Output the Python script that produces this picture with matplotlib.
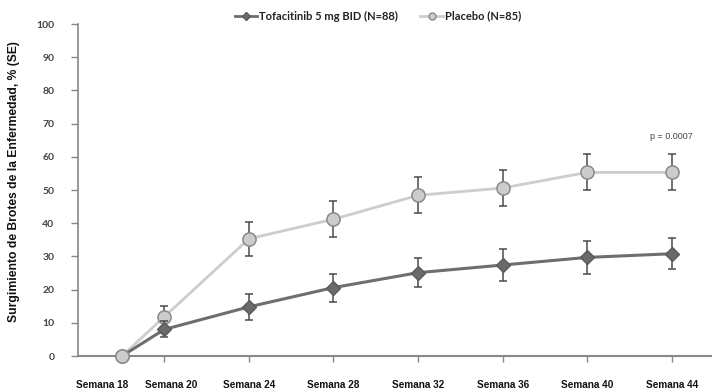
import matplotlib
matplotlib.use("Agg")
import matplotlib.pyplot as plt

# Data
weeks = [18, 20, 24, 28, 32, 36, 40, 44]
week_labels = ["Semana 18", "Semana 20", "Semana 24", "Semana 28",
               "Semana 32", "Semana 36", "Semana 40", "Semana 44"]
tofa_vals = [0, 8.0, 14.8, 20.6, 25.1, 27.4, 29.7, 30.8]
tofa_err = [0, 2.4, 3.9, 4.2, 4.4, 4.8, 4.9, 4.7]
placebo_vals = [0, 11.8, 35.3, 41.2, 48.4, 50.6, 55.3, 55.3]
placebo_err = [0, 3.4, 5.2, 5.5, 5.4, 5.4, 5.4, 5.4]
tofa_label = "Tofacitinib 5 mg BID (N=88)"
placebo_label = "Placebo (N=85)"
p_text = "p = 0.0007"

fig = plt.figure(figsize=(7.12, 3.91), dpi=100)
ax = fig.add_axes([78 / 712, 35 / 391, 634 / 712, 332 / 391])

dark = "#6e6e6e"
light = "#cdcdcd"

# placebo
ax.errorbar(weeks[1:], placebo_vals[1:], yerr=placebo_err[1:], fmt="none",
            ecolor="#4a4a4a", elinewidth=1.1, capsize=3, capthick=1.1, zorder=2)
ax.plot(weeks, placebo_vals, color=light, lw=2, zorder=2)
ax.plot(weeks, placebo_vals, ls="none", marker="o", ms=9.5, mfc="#cccccc",
        mec="#8a8a8a", mew=1.1, zorder=3)

# tofacitinib
ax.errorbar(weeks[1:], tofa_vals[1:], yerr=tofa_err[1:], fmt="none",
            ecolor="#4a4a4a", elinewidth=1.1, capsize=3, capthick=1.1, zorder=4)
ax.plot(weeks, tofa_vals, color=dark, lw=2.2, zorder=4)
ax.plot(weeks[1:], tofa_vals[1:], ls="none", marker="D", ms=7, mfc="#6a6a6a",
        mec="#5a5a5a", mew=1, zorder=5)

# first placebo marker sits on top of the tofacitinib start
ax.plot(weeks[:1], placebo_vals[:1], ls="none", marker="o", ms=9.5, mfc="#cccccc",
        mec="#8a8a8a", mew=1.1, zorder=6)

ax.text(weeks[-1], 66, p_text, ha="center", va="center", fontsize=6.5,
        color="#444444", family="Liberation Sans")

ax.set_xlim(15.92, 45.9)
ax.set_ylim(0, 100)
ax.set_yticks(range(0, 101, 10))
ax.set_xticks(weeks)
ax.set_xticklabels([])

# week labels drawn by hand so the first two can be nudged apart
shifts = [-20, 7, 0, 0, 0, 0, 0, 0]
for wk, lab, dx in zip(weeks, week_labels, shifts):
    ax.annotate(lab, xy=(wk, 0), xycoords=("data", "axes fraction"),
                xytext=(dx * 0.72, -29 * 0.72), textcoords="offset points",
                ha="center", va="center", fontsize=7.2, fontweight="bold",
                family="Liberation Sans", color="#111111", annotation_clip=False)

for lab in ax.get_yticklabels():
    lab.set_fontsize(7.5)
    lab.set_fontweight("bold")
    lab.set_family("Lato")
    lab.set_color("#444444")
ax.tick_params(axis="x", length=4, color="#888888", width=1)
ax.tick_params(axis="y", length=5, pad=12, color="#888888", width=1)

for s in ["top", "right"]:
    ax.spines[s].set_visible(False)
ax.spines["left"].set_color("#888888")
ax.spines["bottom"].set_color("#888888")
ax.spines["left"].set_linewidth(1.2)
ax.spines["bottom"].set_linewidth(1.5)
for art in ax.lines:
    art.set_clip_on(False)

fig.text(14 / 712, 1 - 182 / 391, "Surgimiento de Brotes de la Enfermedad, % (SE)",
         rotation=90, ha="center", va="center", fontsize=8.7, fontweight="bold",
         family="Liberation Sans", color="#111111")

# legend
h1, = ax.plot([], [], color=dark, lw=2, marker="D", ms=4, mfc="#6a6a6a", mec="#5a5a5a")
h2, = ax.plot([], [], color=light, lw=2, marker="o", ms=5, mfc="#cccccc", mec="#8a8a8a")
leg = fig.legend([h1, h2], [tofa_label, placebo_label], loc="center",
                 bbox_to_anchor=(378 / 712, 1 - 16 / 391), ncol=2, frameon=False,
                 handlelength=2.0, handletextpad=0.2, columnspacing=2.0,
                 prop={"family": "Lato", "weight": "bold", "size": 8})
for t in leg.get_texts():
    t.set_color("#222222")

fig.savefig("out.png", dpi=100)
